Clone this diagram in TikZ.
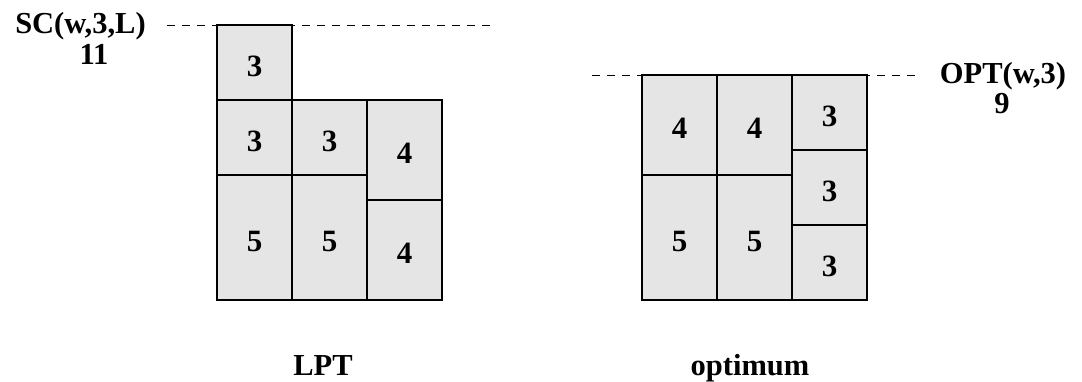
\documentclass[tikz,border=0pt]{standalone}
\usepackage{fontspec}
\setmainfont{Liberation Serif}
\definecolor{boxgray}{RGB}{229,229,229}
\begin{document}
\begin{tikzpicture}[x=1pt,y=-1pt,
  blk/.style={draw=black, fill=boxgray, line width=1.1pt, minimum width=75pt, inner sep=0pt,
              font=\bfseries\fontsize{31}{34}\selectfont},
  u3/.style={minimum height=75pt},
  u4/.style={minimum height=100pt},
  u5/.style={minimum height=125pt},
  num/.style={inner sep=0pt, font=\bfseries\fontsize{31}{34}\selectfont, yshift=-3.5pt},
  lbl/.style={anchor=base, inner sep=0pt, font=\bfseries\fontsize{30.5}{33}\selectfont},
  guide/.style={draw=black, line width=1pt, dash pattern=on 8pt off 7pt}]
\useasboundingbox (0,0) rectangle (1082,381);
% LPT schedule
\node[blk,u5] (l15) at (254.5,237.5) {};
\node[blk,u3] (l13) at (254.5,137.5) {};
\node[blk,u3] (l13b) at (254.5,62.5) {};
\node[blk,u5] (l25) at (329.5,237.5) {};
\node[blk,u3] (l23) at (329.5,137.5) {};
\node[blk,u4] (l34) at (404.5,250) {};
\node[blk,u4] (l34b) at (404.5,150) {};
% optimum schedule
\node[blk,u5] (r15) at (679.5,237.5) {};
\node[blk,u4] (r14) at (679.5,125) {};
\node[blk,u5] (r25) at (754.5,237.5) {};
\node[blk,u4] (r24) at (754.5,125) {};
\node[blk,u3] (r33) at (829.5,262.5) {};
\node[blk,u3] (r33b) at (829.5,187.5) {};
\node[blk,u3] (r33c) at (829.5,112.5) {};
% numbers
\node[num] (tl15) at (l15) {5};
\node[num] (tl13) at (l13) {3};
\node[num] (tl13b) at (l13b) {3};
\node[num] (tl25) at (l25) {5};
\node[num] (tl23) at (l23) {3};
\node[num] (tl34) at (l34) {4};
\node[num] (tl34b) at (l34b) {4};
\node[num] (tr15) at (r15) {5};
\node[num] (tr14) at (r14) {4};
\node[num] (tr25) at (r25) {5};
\node[num] (tr24) at (r24) {4};
\node[num] (tr33) at (r33) {3};
\node[num] (tr33b) at (r33b) {3};
\node[num] (tr33c) at (r33c) {3};
% guide lines
\coordinate (gl1) at (167,25);
\coordinate (gl2) at (490,25);
\coordinate (gr1) at (592,75);
\coordinate (gr2) at (915,75);
\draw[guide] (gl1) -- (gl2);
\draw[guide] (gr1) -- (gr2);
% labels
\node[lbl] (sc) at (80.5,33) {SC(w,3,L)};
\node[lbl] (scv) at (94,64) {11};
\node[lbl] (opt) at (1003,83) {OPT(w,3)};
\node[lbl] (optv) at (1002,113) {9};
\node[lbl] (lpt) at (323,375) {LPT};
\node[lbl] (optimum) at (750,375) {optimum};
\end{tikzpicture}
\end{document}
